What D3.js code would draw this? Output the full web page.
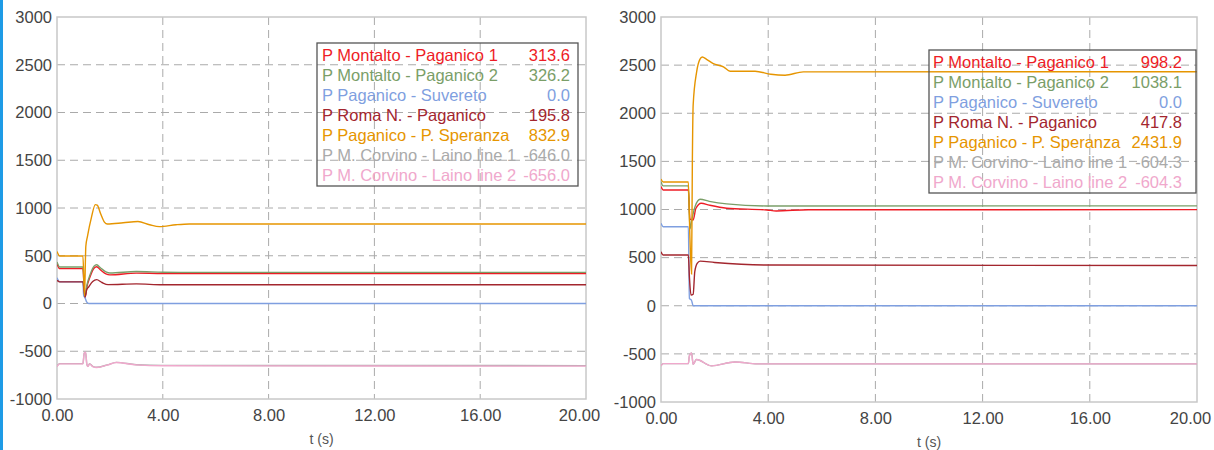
<!DOCTYPE html>
<html>
<head>
    <meta charset="utf-8">
    <title>Line power flows</title>
    <script src="https://d3js.org/d3.v7.min.js"></script>
    <style>
        body { margin: 0; background: #fff; }
        svg text { font-family: "Helvetica Neue", Helvetica, Arial, "Liberation Sans", sans-serif; }
    </style>
</head>
<body>
    <script>
        // series names and colours (same order in both charts)
        const seriesNames = [
            "P Montalto - Paganico 1",
            "P Montalto - Paganico 2",
            "P Paganico - Suvereto",
            "P Roma N. - Paganico",
            "P Paganico - P. Speranza",
            "P M. Corvino - Laino line 1",
            "P M. Corvino - Laino line 2"
        ];
        const seriesColors = ["#ee1c25", "#7a9e68", "#7f9fe0", "#a3262e", "#e69500", "#aaaaaa", "#f0a8cc"];

        const xTicks = [0, 4, 8, 12, 16, 20];
        const yTicks = [-1000, -500, 0, 500, 1000, 1500, 2000, 2500, 3000];

        // final values shown in the legends
        const legendValues1 = [313.6, 326.2, 0.0, 195.8, 832.9, -646.0, -656.0];
        const legendValues2 = [998.2, 1038.1, 0.0, 417.8, 2431.9, -604.3, -604.3];

        // case 1 (left chart): [t, P]
        const montalto1A = [[0,417],[0.1,365],[0.98,365],[1.03,150],[1.06,60],[1.12,160],[1.25,280],[1.4,370],[1.5,385],[1.65,350],[1.85,310],[2.0,300],[3.0,318],[4.0,314],[5.0,314],[20,313.6]];
        const montalto2A = [[0,434],[0.1,382],[0.98,382],[1.03,150],[1.06,70],[1.12,180],[1.25,300],[1.4,390],[1.5,405],[1.65,372],[1.85,332],[2.0,320],[3.0,335],[4.0,328],[5.0,326],[20,326.2]];
        const suveretoA  = [[0,270],[0.1,228],[0.98,228],[1.01,80],[1.06,60],[1.12,17],[1.2,0],[20,0]];
        const romaA      = [[0,243],[0.1,226],[0.98,226],[1.03,120],[1.06,70],[1.12,140],[1.2,175],[1.35,230],[1.5,250],[1.7,220],[1.93,198],[3.0,205],[4.0,196],[20,195.8]];
        const speranzaA  = [[0,545],[0.1,497],[0.98,497],[1.04,80],[1.09,600],[1.15,700],[1.3,900],[1.45,1035],[1.52,1030],[1.65,940],[1.8,850],[1.9,833],[2.5,845],[3.06,858],[3.5,825],[3.87,805],[4.5,825],[5.0,833],[20,832.9]];
        const corvino1A  = [[0,-658],[0.1,-630],[0.98,-630],[1.03,-520],[1.08,-511],[1.13,-640],[1.17,-658],[1.23,-630],[1.35,-658],[1.5,-668],[1.9,-643],[2.24,-616],[3.0,-641],[4.0,-648],[20,-650]];
        const corvino2A  = [[0,-660],[0.1,-632],[0.98,-632],[1.03,-520],[1.08,-511],[1.13,-640],[1.17,-660],[1.23,-632],[1.35,-660],[1.5,-670],[1.9,-645],[2.24,-618],[3.0,-643],[4.0,-652],[20,-656]];

        // case 2 (right chart): [t, P]
        const montalto1B = [[0,1238],[0.08,1203],[1.02,1203],[1.08,900],[1.2,891],[1.3,1010],[1.5,1065],[1.8,1045],[2.45,1013],[3.95,995],[4.3,985],[5.5,998],[20,998.2]];
        const montalto2B = [[0,1290],[0.08,1245],[1.02,1245],[1.08,800],[1.14,880],[1.27,1030],[1.46,1106],[1.8,1085],[2.45,1058],[3.95,1037],[20,1038.1]];
        const suveretoB  = [[0,857],[0.08,821],[1.02,821],[1.06,76],[1.14,55],[1.2,0],[20,0]];
        const romaB      = [[0,561],[0.08,527],[1.02,527],[1.06,300],[1.12,110],[1.2,120],[1.26,353],[1.35,440],[1.46,464],[2.0,450],[3.95,423],[20,417.8]];
        const speranzaB  = [[0,1316],[0.08,1285],[1.02,1285],[1.08,700],[1.14,330],[1.17,1500],[1.2,2085],[1.33,2430],[1.45,2560],[1.54,2585],[1.7,2560],[1.95,2516],[2.33,2482],[2.58,2437],[3.51,2437],[4.1,2405],[4.63,2395],[5.31,2430],[20,2431.9]];
        const corvino1B  = [[0,-625],[0.08,-601],[1.02,-601],[1.06,-520],[1.14,-490],[1.2,-608],[1.32,-559],[1.89,-625],[2.76,-584],[3.6,-604],[20,-604.3]];
        const corvino2B  = [[0,-625],[0.08,-601],[1.02,-601],[1.06,-520],[1.14,-490],[1.2,-608],[1.32,-559],[1.89,-625],[2.76,-584],[3.6,-604],[20,-604.3]];

        const width = 1214, height = 450;
        const fontSize = 16.5;

        const svg = d3.select("body").append("svg")
            .attr("width", width)
            .attr("height", height);

        // blue strip on the left edge
        svg.append("rect")
            .attr("x", 0).attr("y", 0)
            .attr("width", 3).attr("height", height)
            .attr("fill", "#1e9be6");

        function drawChart(cfg) {
            const x = d3.scaleLinear().domain([0, 20]).range([cfg.left, cfg.right]);
            const y = d3.scaleLinear().domain([-1000, 3000]).range([cfg.bottom, cfg.top]);
            const g = svg.append("g");

            const clipId = "clip-" + cfg.id;
            svg.append("defs").append("clipPath").attr("id", clipId)
                .append("rect")
                .attr("x", cfg.left).attr("y", cfg.top)
                .attr("width", cfg.right - cfg.left).attr("height", cfg.bottom - cfg.top);

            // dashed grid
            g.selectAll("line.hgrid")
                .data(yTicks.slice(1, -1))
                .enter().append("line")
                .attr("x1", cfg.left).attr("x2", cfg.right)
                .attr("y1", d => y(d)).attr("y2", d => y(d))
                .attr("stroke", "#aaa").attr("stroke-width", 1)
                .attr("stroke-dasharray", "8,5");
            g.selectAll("line.vgrid")
                .data(xTicks.slice(1, -1))
                .enter().append("line")
                .attr("x1", d => x(d)).attr("x2", d => x(d))
                .attr("y1", cfg.top).attr("y2", cfg.bottom)
                .attr("stroke", "#aaa").attr("stroke-width", 1)
                .attr("stroke-dasharray", "8,5");

            // frame
            g.append("rect")
                .attr("x", cfg.left).attr("y", cfg.top)
                .attr("width", cfg.right - cfg.left).attr("height", cfg.bottom - cfg.top)
                .attr("fill", "none").attr("stroke", "#c8c8c8").attr("stroke-width", 1.5);

            // axes
            const yAxis = g.append("g")
                .attr("transform", `translate(${cfg.left},0)`)
                .call(d3.axisLeft(y).tickValues(yTicks).tickFormat(d => String(d)).tickSize(0).tickPadding(5));
            const xAxis = g.append("g")
                .attr("transform", `translate(0,${cfg.bottom})`)
                .call(d3.axisBottom(x).tickValues(xTicks).tickFormat(d => d.toFixed(2)).tickSize(0).tickPadding(10));
            [yAxis, xAxis].forEach(a => {
                a.select(".domain").remove();
                a.selectAll("text").attr("font-size", fontSize).attr("fill", "#444")
                    .style("font-family", "\"Helvetica Neue\", Helvetica, Arial, \"Liberation Sans\", sans-serif");
            });
            xAxis.selectAll(".tick:last-of-type text").attr("dx", -7);

            g.append("text")
                .attr("x", (cfg.left + cfg.right) / 2)
                .attr("y", cfg.bottom + 45)
                .attr("text-anchor", "middle")
                .attr("font-size", 14)
                .attr("fill", "#555")
                .text("t (s)");

            // series
            const line = d3.line()
                .x(d => x(d[0]))
                .y(d => y(d[1]))
                .curve(d3.curveMonotoneX);
            g.append("g").attr("clip-path", `url(#${clipId})`)
                .selectAll("path")
                .data(cfg.series)
                .enter().append("path")
                .attr("d", d => line(d))
                .attr("fill", "none")
                .attr("stroke", (d, i) => seriesColors[i])
                .attr("stroke-width", 1.4);

            // legend
            const lg = g.append("g");
            lg.append("rect")
                .attr("x", cfg.legend.x).attr("y", cfg.legend.y)
                .attr("width", cfg.legend.w).attr("height", 20 * seriesNames.length + 3)
                .attr("fill", "none").attr("stroke", "#555").attr("stroke-width", 1.3);
            const rows = lg.selectAll("g.row")
                .data(seriesNames)
                .enter().append("g")
                .attr("transform", (d, i) => `translate(0,${cfg.legend.y + 12 + i * 20})`);
            rows.append("text")
                .attr("x", cfg.legend.x + cfg.legend.padL)
                .attr("dy", "0.35em")
                .attr("font-size", fontSize)
                .attr("fill", (d, i) => seriesColors[i])
                .text(d => d);
            rows.append("text")
                .attr("x", cfg.legend.x + cfg.legend.w - cfg.legend.padR)
                .attr("dy", "0.35em")
                .attr("text-anchor", "end")
                .attr("font-size", fontSize)
                .attr("fill", (d, i) => seriesColors[i])
                .text((d, i) => cfg.values[i].toFixed(1));
        }

        drawChart({
            id: "a", left: 57, right: 586, top: 17, bottom: 399,
            series: [montalto1A, montalto2A, suveretoA, romaA, speranzaA, corvino1A, corvino2A],
            values: legendValues1,
            legend: { x: 317, y: 43, w: 261, padL: 5, padR: 8 }
        });
        drawChart({
            id: "b", left: 661, right: 1197, top: 17, bottom: 402,
            series: [montalto1B, montalto2B, suveretoB, romaB, speranzaB, corvino1B, corvino2B],
            values: legendValues2,
            legend: { x: 929, y: 50, w: 267, padL: 4, padR: 14 }
        });
    </script>
</body>
</html>
